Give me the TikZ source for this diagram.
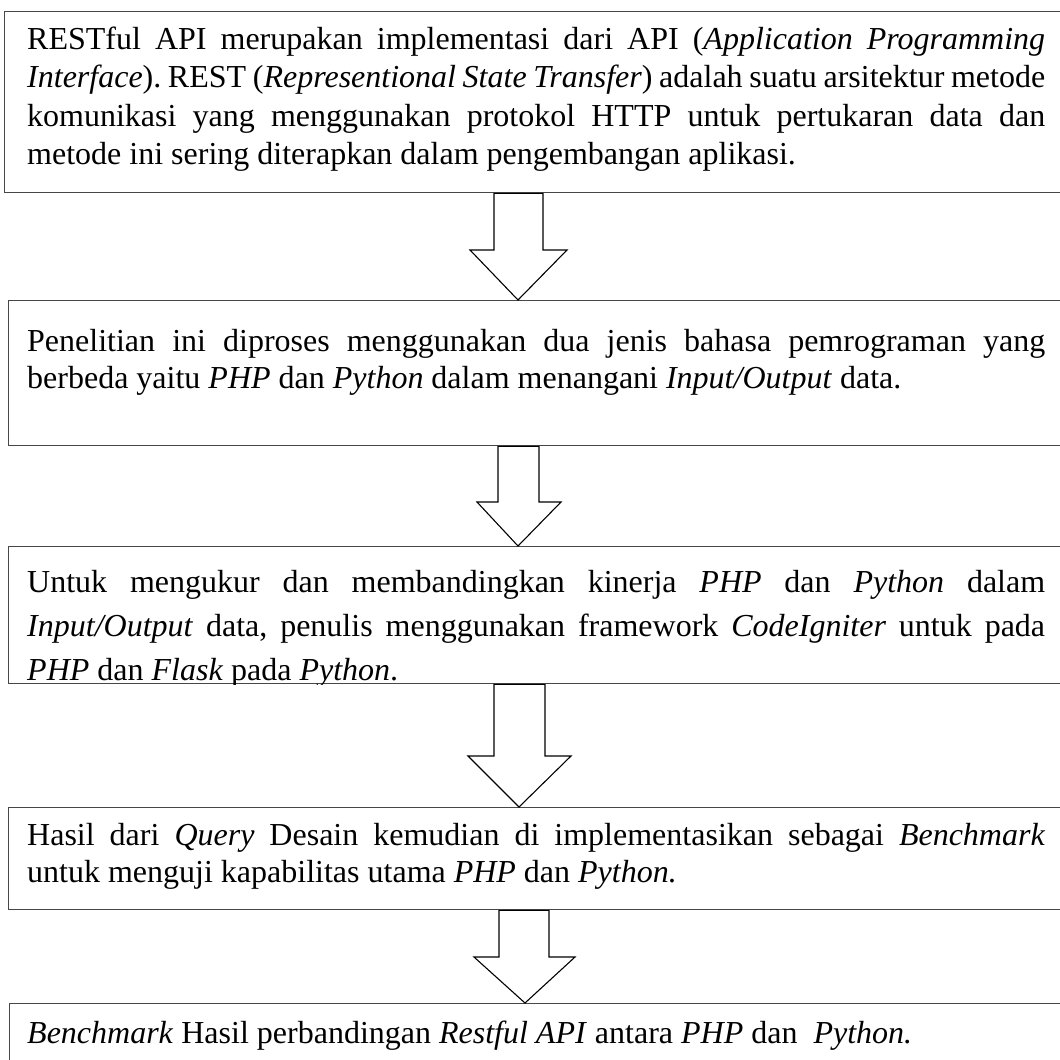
\documentclass[tikz,border=0pt]{standalone}
\usepackage{fontspec}
\setmainfont{Liberation Serif}
\hyphenpenalty=10000
\exhyphenpenalty=10000
\emergencystretch=20pt
\frenchspacing

\tikzset{
  kotak/.style={draw=black!72, line width=1.4pt, rectangle, anchor=north west,
    minimum width=1080pt, inner sep=0pt},
  isi/.style={anchor=base west, inner sep=0pt, text width=1018pt, align=justify,
    font=\fontsize{32}{37.5}\selectfont},
  panah/.style={draw=black, line width=1.1pt, line join=miter},
}

\begin{document}
\begin{tikzpicture}[x=1pt,y=-1pt]
\useasboundingbox (0,0) rectangle (1060,1060);

% kotak-kotak alur
\node[kotak, minimum height=181pt] (b1) at (4,11) {};
\node[kotak, minimum height=145pt] (b2) at (8,300) {};
\node[kotak, minimum height=137pt] (b3) at (8,546) {};
\node[kotak, minimum height=102pt] (b4) at (8,807) {};
\node[kotak, minimum height=110pt] (b5) at (9,1003) {};

% teks
\node[isi, font=\fontsize{32}{38.5}\selectfont] (t1) at (27,49) {RESTful API merupakan implementasi dari API (\textit{Application Programming}\linebreak
  {\spaceskip=0.17em plus 0.3em minus 0.05em \textit{Interface}). REST (\textit{Representional State Transfer}) adalah suatu arsitektur metode}\linebreak
  komunikasi yang menggunakan protokol HTTP untuk pertukaran data dan\linebreak
  metode ini sering diterapkan dalam pengembangan aplikasi.};
\node[isi] (t2) at (27,351) {Penelitian ini diproses menggunakan dua jenis bahasa pemrograman yang\linebreak
  berbeda yaitu \textit{PHP} dan \textit{Python} dalam menangani \textit{Input/Output} data.};
\begin{scope}
\clip (b3.north west) rectangle (b3.south east);
\node[isi, font=\fontsize{32}{44}\selectfont] (t3) at (27,592) {Untuk mengukur dan membandingkan kinerja \textit{PHP} dan \textit{Python} dalam\linebreak
  \textit{Input/Output} data, penulis menggunakan framework \textit{CodeIgniter} untuk pada\linebreak
  \textit{PHP} dan \textit{Flask} pada \textit{Python}.};
\end{scope}
\node[isi] (t4) at (27,845) {Hasil dari \textit{Query} Desain kemudian di implementasikan sebagai \textit{Benchmark}\linebreak
  untuk menguji kapabilitas utama \textit{PHP} dan \textit{Python.}};
\node[isi] (t5) at (27,1043) {\textit{Benchmark} Hasil perbandingan \textit{Restful API} antara \textit{PHP} dan\ \ \textit{Python.}};

% panah blok
\draw[panah] (494,0 |- b1.south) -- (494,250) -- (470,250) -- (518,0 |- b2.north)
  -- (567,250) -- (543,250) -- (543,0 |- b1.south) -- cycle;
\draw[panah] (498,0 |- b2.south) -- (498,502) -- (477,502) -- (518,0 |- b3.north)
  -- (561,502) -- (539,502) -- (539,0 |- b2.south) -- cycle;
\draw[panah] (494,0 |- b3.south) -- (494,756) -- (468,756) -- (519,0 |- b4.north)
  -- (571,756) -- (545,756) -- (545,0 |- b3.south) -- cycle;
\draw[panah] (499,0 |- b4.south) -- (499,957) -- (474,957) -- (525,0 |- b5.north)
  -- (575,957) -- (549,957) -- (549,0 |- b4.south) -- cycle;
\end{tikzpicture}
\end{document}
